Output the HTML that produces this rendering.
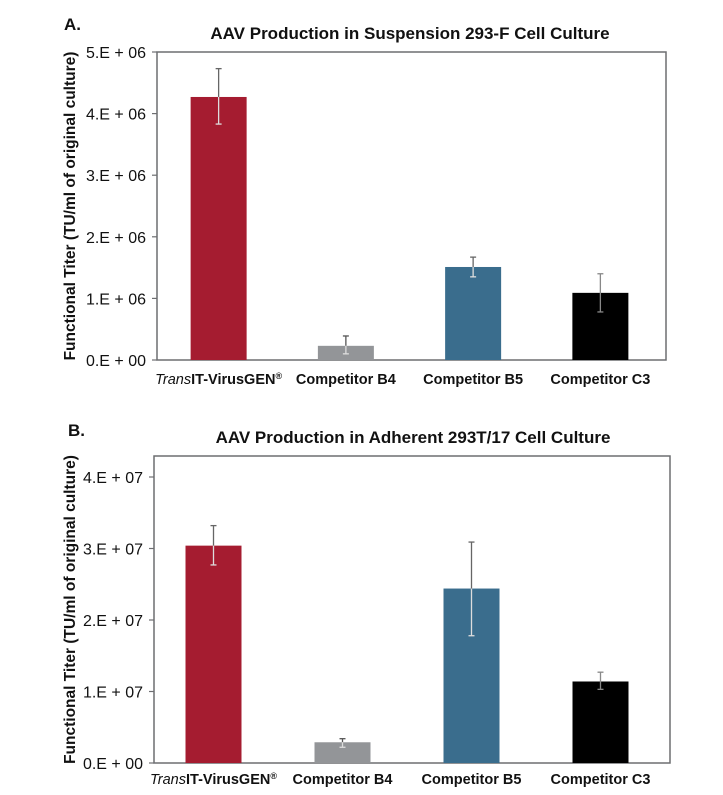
<!DOCTYPE html>
<html><head><meta charset="utf-8">
<style>
body{margin:0;background:#fff;}
svg{display:block;font-family:"Liberation Sans Narrow","Liberation Sans",sans-serif;}
</style></head>
<body>
<svg id="chart" width="723" height="795" viewBox="0 0 723 795" xmlns="http://www.w3.org/2000/svg"></svg>
<script>
const categories = ["TransIT-VirusGEN®", "Competitor B4", "Competitor B5", "Competitor C3"];
const colors = ["#a51c30", "#939598", "#3a6d8d", "#000000"];
const valuesA = [4.27e6, 0.23e6, 1.51e6, 1.09e6];
const errHiA = [4.73e6, 0.39e6, 1.67e6, 1.40e6];
const errLoA = [3.83e6, 0.10e6, 1.35e6, 0.78e6];
const ticksA = [0, 1e6, 2e6, 3e6, 4e6, 5e6];
const tickLabelsA = ["0.E + 00", "1.E + 06", "2.E + 06", "3.E + 06", "4.E + 06", "5.E + 06"];
const valuesB = [3.04e7, 0.29e7, 2.44e7, 1.14e7];
const errHiB = [3.32e7, 0.34e7, 3.09e7, 1.27e7];
const errLoB = [2.77e7, 0.22e7, 1.78e7, 1.03e7];
const ticksB = [0, 1e7, 2e7, 3e7, 4e7];
const tickLabelsB = ["0.E + 00", "1.E + 07", "2.E + 07", "3.E + 07", "4.E + 07"];

const svg = document.getElementById('chart');
const NS = "http://www.w3.org/2000/svg";
function mk(tag, attrs, parent){
  const e = document.createElementNS(NS, tag);
  for (const k in attrs) e.setAttribute(k, attrs[k]);
  (parent||svg).appendChild(e); return e;
}

function drawChart(cfg){
  const g = mk('g', {});
  
  
  const y = v => cfg.bottom - (v - 0) / cfg.max * (cfg.bottom - cfg.top0);
  // panel letter
  const letter = mk('text', {x: cfg.letterX, y: cfg.letterY, 'font-size': 17, 'font-weight': 'bold', fill: '#111'}, g);
  letter.textContent = cfg.letter;
  
  
  const title = mk('text', {x: cfg.titleX, y: cfg.titleY, 'font-size': 17, 'font-weight': 'bold', 'text-anchor': 'middle', fill: '#111'}, g);
  title.textContent = cfg.title;
  
  
  // plot frame
  const frame = mk('rect', {x: cfg.left, y: cfg.frameTop, width: cfg.right - cfg.left, height: cfg.bottom - cfg.frameTop, fill: 'none', stroke: '#6d6e71', 'stroke-width': 1.5}, g);
  
  
  // ticks
  cfg.ticks.forEach((t, i) => {
    const ty = y(t);
    const tl = mk('line', {x1: cfg.left - 5, x2: cfg.left, y1: ty, y2: ty, stroke: '#6d6e71', 'stroke-width': 1.2}, g);
    
    
    const lab = mk('text', {x: cfg.left - 11, y: ty + 6, 'font-size': 16, 'text-anchor': 'end', fill: '#111'}, g);
    lab.textContent = cfg.tickLabels[i];
    
    
  });
  // y axis title
  const yt = mk('text', {x: 0, y: 0, 'font-size': 15.5, 'font-weight': 'bold', 'text-anchor': 'middle', fill: '#111', transform: `translate(${cfg.yTitleX},${(cfg.frameTop + cfg.bottom)/2}) rotate(-90)`}, g);
  yt.textContent = "Functional Titer (TU/ml of original culture)";
  
  
  // bars
  const n = categories.length;
  const slot = (cfg.right - cfg.left) / n;
  const bw = 56;
  cfg.values.forEach((v, i) => {
    const cx = cfg.left + slot * (i + 0.5) + cfg.offset;
    const b = mk('rect', {x: cx - bw/2, y: y(v), width: bw, height: cfg.bottom - y(v), fill: colors[i]}, g);
    
    
    const ec = i === 3 ? '#888' : (i === 1 ? '#555' : '#666');
    const innerC = '#ddd';
    const eg = mk('g', {}, g);
    
    
    // part above bar dark, inside bar light
    const top = y(cfg.hi[i]), bot = y(cfg.lo[i]), by = y(v);
    mk('line', {x1: cx, x2: cx, y1: top, y2: Math.min(by, bot), stroke: ec, 'stroke-width': 1.3}, eg);
    if (bot > by) mk('line', {x1: cx, x2: cx, y1: Math.max(by, top), y2: bot, stroke: i === 3 ? '#888' : innerC, 'stroke-width': 1.3}, eg);
    mk('line', {x1: cx - 3, x2: cx + 3, y1: top, y2: top, stroke: ec, 'stroke-width': 1.3}, eg);
    mk('line', {x1: cx - 3, x2: cx + 3, y1: bot, y2: bot, stroke: bot > by ? (i === 3 ? '#888' : innerC) : ec, 'stroke-width': 1.3}, eg);
    // category label
    const cl = mk('text', {x: cx, y: cfg.labelY, 'font-size': 14.5, 'font-weight': 'bold', 'text-anchor': 'middle', fill: '#111'}, g);
    
    
    if (i === 0) {
      const ts = mk('tspan', {'font-style': 'italic', 'font-weight': 'normal'}, cl); ts.textContent = 'Trans';
      const t2 = mk('tspan', {}, cl); t2.textContent = 'IT-VirusGEN';
      const t3 = mk('tspan', {'font-size': 9, dy: -5}, cl); t3.textContent = '®';
    } else cl.textContent = categories[i];
  });
}

drawChart({name: 'chart-a-suspension', letter: 'A.', letterX: 64, letterY: 30, title: 'AAV Production in Suspension 293-F Cell Culture',
  titleX: 410, titleY: 39, left: 157, right: 666, frameTop: 52, top0: 52, bottom: 360, max: 5e6,
  ticks: ticksA, tickLabels: tickLabelsA, values: valuesA, hi: errHiA, lo: errLoA, yTitleX: 75, labelY: 384, offset: -2});
drawChart({name: 'chart-b-adherent', letter: 'B.', letterX: 68, letterY: 436, title: 'AAV Production in Adherent 293T/17 Cell Culture',
  titleX: 413, titleY: 443, left: 154, right: 670, frameTop: 456, top0: 477, bottom: 763, max: 4e7,
  ticks: ticksB, tickLabels: tickLabelsB, values: valuesB, hi: errHiB, lo: errLoB, yTitleX: 75, labelY: 784, offset: -5});
</script>
</body></html>
